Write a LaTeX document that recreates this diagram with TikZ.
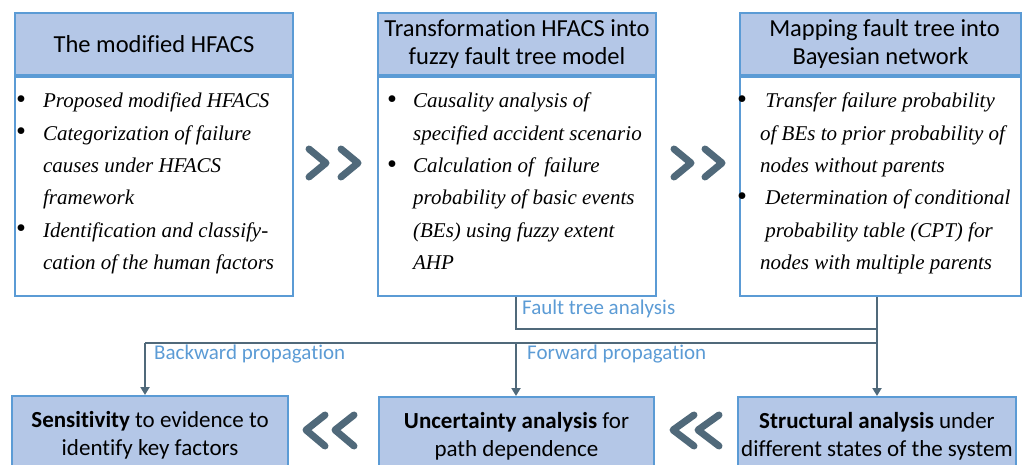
\documentclass[tikz,border=0pt]{standalone}
\usepackage{fontspec}
\setmainfont{Liberation Serif}
\newfontfamily\calfont[Ligatures=NoCommon]{Carlito}
\usetikzlibrary{arrows.meta}
\definecolor{edgeblue}{HTML}{5B9BD5}
\definecolor{fillblue}{HTML}{B4C7E7}
\definecolor{linkgray}{HTML}{50697A}
\definecolor{lblblue}{HTML}{5B9BD5}
\newcommand{\bul}{\upshape\raisebox{-0.5pt}{\scalebox{1.35}{\textbullet}}}
\tikzset{
  hdr/.style={draw=edgeblue, line width=2pt, fill=fillblue, anchor=north west,
    minimum height=62pt, inner sep=0pt, align=center,
    font=\calfont\fontsize{24.5}{28}\selectfont},
  bodybox/.style={draw=edgeblue, line width=2pt, fill=white, anchor=north west,
    minimum height=219pt, inner sep=0pt},
  items/.style={anchor=base west, inner sep=0pt,
    font=\fontsize{21}{32.3}\selectfont\itshape},
  btm/.style={draw=edgeblue, line width=2pt, fill=fillblue, anchor=north west,
    minimum height=78pt, inner sep=0pt, align=center,
    font=\calfont\fontsize{23}{28}\selectfont},
  conn/.style={draw=linkgray, line width=2.2pt},
  tip/.style={-{Triangle[width=9pt,length=8pt]}},
  lbl/.style={anchor=west, inner sep=0pt, text=lblblue,
    font=\calfont\fontsize{21}{24}\selectfont},
  chev/.style={draw=linkgray, line width=7pt, line cap=round, line join=round}
}
\begin{document}
\begin{tikzpicture}[x=1pt,y=-1pt]
\useasboundingbox (0,0) rectangle (1028,465);
\clip (0,0) rectangle (1028,465);

% upper row: header + bullet body
\node[hdr, minimum width=278pt] (h1) at (14,12) {The modified HFACS};
\node[bodybox, minimum width=278pt] (b1) at (h1.south west) {};
\node[hdr, minimum width=278pt] (h2) at (377,12) {Transformation HFACS into\\fuzzy fault tree model};
\node[bodybox, minimum width=278pt] (b2) at (h2.south west) {};
\node[hdr, minimum width=281pt] (h3) at (739,12) {\hspace{8pt}Mapping fault tree into\\Bayesian network};
\node[bodybox, minimum width=281pt] (b3) at (h3.south west) {};

\node[items] (l1) at (16,108) {\begin{tabular}[t]{@{}l@{\hspace{17pt}}l@{}}
\bul & Proposed modified HFACS\\
\bul & Categorization of failure\\
 & causes under HFACS\\
 & framework\\
\bul & Identification and classify-\\
 & cation of the human factors
\end{tabular}};
\node[items] (l2) at (387,108) {\begin{tabular}[t]{@{}l@{\hspace{16pt}}l@{}}
\bul & Causality analysis of\\
 & specified accident scenario\\
\bul & Calculation of\ \ failure\\
 & probability of basic events\\
 & (BEs) using fuzzy extent\\
 & AHP
\end{tabular}};
\node[items] (l3) at (737,108) {\begin{tabular}[t]{@{}l@{\hspace{13pt}}l@{}}
\bul & \ Transfer failure probability\\
 & of BEs to prior probability of\\
 & nodes without parents\\
\bul & \ Determination of conditional\\
 & \ probability table (CPT) for\\
 & nodes with multiple parents
\end{tabular}};

% lower row
\node[btm, minimum width=276pt] (s1) at (11,395) {\textbf{Sensitivity} to evidence to\\identify key factors};
\node[btm, minimum width=275pt] (s2) at (378,396) {\textbf{Uncertainty analysis} for\\path dependence};
\node[btm, minimum width=278pt] (s3) at (737,396) {\textbf{Structural analysis} under\\different states of the system};

% connectors
\coordinate (spine) at (877,0);
\coordinate (ftx) at (516,329);
\coordinate (bp) at (145,343);
\draw[conn] (b2.south -| ftx) -- (ftx) -- (ftx -| spine);
\draw[conn, tip] (b3.south -| spine) -- (s3.north -| spine);
\draw[conn] (bp -| spine) -- (bp);
\draw[conn, tip] (bp) -- (s1.north -| bp);
\draw[conn, tip] (ftx |- bp) -- (s2.north -| ftx);

\node[lbl] (lft) at (522,309) {Fault tree analysis};
\node[lbl] (lbw) at (154,354) {Backward propagation};
\node[lbl] (lfw) at (527,354) {Forward propagation};

% chevrons
\draw[chev] (309,149) -- (326,163) -- (309,177);
\draw[chev] (341,149) -- (358,163) -- (341,177);
\draw[chev] (674,149) -- (691,163) -- (674,177);
\draw[chev] (705,149) -- (722,163) -- (705,177);
\draw[chev] (325,415) -- (306,430) -- (325,446);
\draw[chev] (354,415) -- (335,430) -- (354,446);
\draw[chev] (694,415) -- (673,430) -- (694,446);
\draw[chev] (719,415) -- (698,430) -- (719,446);
\end{tikzpicture}
\end{document}
